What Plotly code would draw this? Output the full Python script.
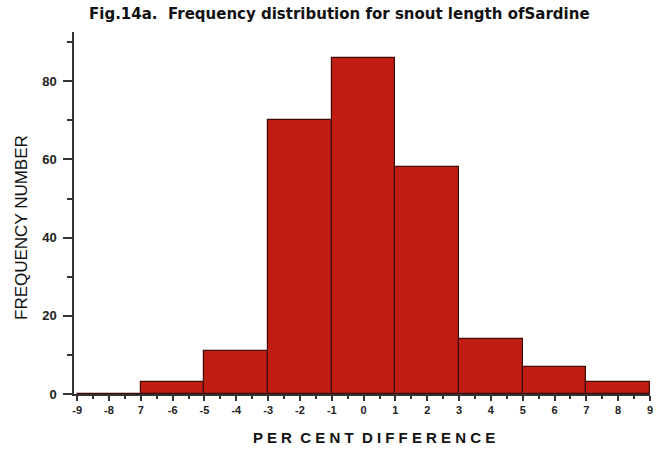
import plotly.graph_objects as go

bin_left = [-9, -7, -5, -3, -1, 1, 3, 5, 7]
bin_width = 2
counts = [0, 3, 11, 70, 86, 58, 14, 7, 3]

tick_vals = list(range(-9, 10))
tick_text = ["-9", "-8", "7", "-6", "-5", "-4", "-3", "-2", "-1", "0",
             "1", "2", "3", "4", "5", "6", "7", "8", "9"]
y_ticks = [0, 20, 40, 60, 80]

centers = [b + bin_width / 2 for b in bin_left]

fig = go.Figure(go.Bar(
    x=centers, y=counts, width=[bin_width] * len(counts),
    marker=dict(color="#bf1d14", line=dict(color="#3e0a07", width=1.2)),
))

font = "Liberation Sans, Arial, sans-serif"
L, R = 74, 3
fig.update_layout(
    width=656, height=450,
    margin=dict(l=L, r=R, t=32, b=56),
    paper_bgcolor="white", plot_bgcolor="white",
    showlegend=False, bargap=0,
    xaxis=dict(range=[-9.1, 9.0], tickvals=tick_vals, ticktext=tick_text,
               ticklabeloverflow="allow",
               showgrid=False, zeroline=False, showline=True, linecolor="#333", linewidth=1.5,
               ticks="outside", ticklen=5, tickcolor="#333", tickwidth=1.5,
               minor=dict(dtick=0.5, tick0=0, ticks="outside", ticklen=3, tickcolor="#333", tickwidth=1.5),
               tickfont=dict(family=font, size=11, color="#222", weight="bold")),
    yaxis=dict(range=[0, 92.6], tickvals=y_ticks,
               showgrid=False, zeroline=False, showline=True, linecolor="#333", linewidth=1.5,
               ticks="outside", ticklen=9, tickcolor="#333", tickwidth=1.5,
               ticklabelstandoff=4,
               minor=dict(dtick=10, tick0=0, ticks="outside", ticklen=5, tickcolor="#333", tickwidth=1.5),
               tickfont=dict(family=font, size=13, color="#222", weight="bold")),
    annotations=[
        dict(text="<b>Fig.14a.  Frequency distribution for snout length ofSardine</b>",
             xref="paper", yref="paper", x=(341 - L) / (656 - L - R), y=1, yshift=18,
             xanchor="center", yanchor="middle", showarrow=False,
             font=dict(family="DejaVu Sans, sans-serif", size=15, color="#111")),
        dict(text="P E R  C E N T  D I F F E R E N C E",
             xref="paper", yref="paper", x=(376 - L) / (656 - L - R), y=0, yshift=-43,
             xanchor="center", yanchor="middle", showarrow=False,
             font=dict(family=font, size=15, color="#111", weight="bold")),
        dict(text="FREQUENCY NUMBER", textangle=-90,
             xref="paper", yref="paper", x=0, xshift=-(L - 22), y=(394 - 228) / 362,
             xanchor="center", yanchor="middle", showarrow=False,
             font=dict(family=font, size=17, color="#111")),
    ],
)

fig.write_html("out.html")
